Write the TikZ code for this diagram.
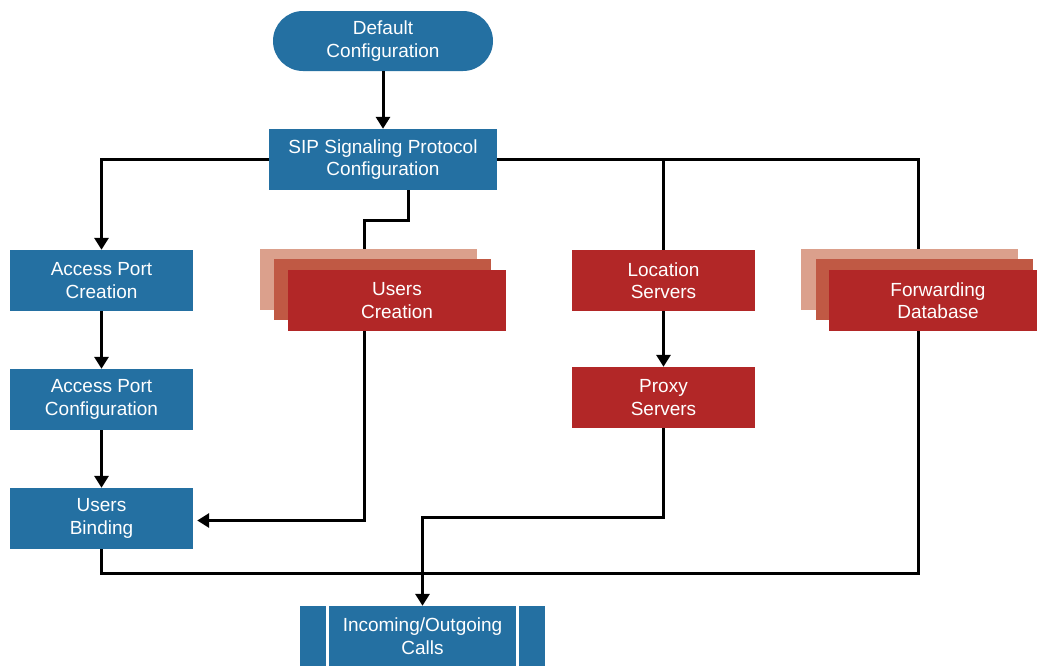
\documentclass[tikz,border=0pt]{standalone}
\usepackage{fontspec}
\setmainfont{Liberation Sans}
\usetikzlibrary{arrows.meta,calc}
\definecolor{stepblue}{HTML}{2470A2}
\definecolor{stepred}{HTML}{B22727}
\definecolor{layermid}{HTML}{C05944}
\definecolor{layerback}{HTML}{DBA08C}
\tikzset{
  box/.style={fill=#1, text=white, inner sep=0pt, align=center,
    minimum height=61pt, font=\fontsize{19}{22.5}\selectfont},
  bluebox/.style={box=stepblue, minimum width=183pt},
  redbox/.style={box=stepred, minimum width=183pt},
  layer/.style={fill=#1, inner sep=0pt, minimum width=217pt, minimum height=61pt},
  conn/.style={line width=3pt, draw=black},
  arr/.style={conn, -{Triangle[length=12pt,width=14pt]}},
}
\begin{document}
\begin{tikzpicture}[x=1pt, y=-1pt]
\clip (0,0) rectangle (1037,665);
\fill[white] (0,0) rectangle (1037,665);

% top of the flow
\node[box=stepblue, minimum width=220pt, minimum height=60pt, rounded corners=30pt] (def) at (383,41) {Default\\Configuration};
\node[box=stepblue, minimum width=228pt] (sip) at (383,159.5) {SIP Signaling Protocol\\Configuration};

% left column
\node[bluebox] (apc) at (101.5,280.5) {Access Port\\Creation};
\node[bluebox] (apcf) at (101.5,399.5) {Access Port\\Configuration};
\node[bluebox] (ub) at (101.5,518.5) {Users\\Binding};

% users creation (stacked)
\node[layer=layerback] (ucb) at (368.5,279.5) {};
\node[layer=layermid] (ucm) at (382.5,289.5) {};
\node[box=stepred, minimum width=218pt] (uc) at (397,300.5) {Users\\Creation};

% location and proxy servers
\node[redbox] (loc) at (663.5,280.5) {Location\\Servers};
\node[redbox] (proxy) at (663.5,397.5) {Proxy\\Servers};

% forwarding database (stacked)
\node[layer=layerback] (fwdb) at (909.5,279.5) {};
\node[layer=layermid] (fwdm) at (924,289.5) {};
\node[box=stepred, minimum width=218pt] (fwd) at (938,300.5) {Forwarding\\Database};

% incoming/outgoing calls (predefined process)
\node[box=stepblue, minimum width=245pt, minimum height=60pt] (io) at (422.5,636) {Incoming/Outgoing\\Calls};
\draw[white, line width=3pt] ([xshift=27.5pt]io.north west) -- ([xshift=27.5pt]io.south west);
\draw[white, line width=3pt] ([xshift=-27.5pt]io.north east) -- ([xshift=-27.5pt]io.south east);

% connector columns
\coordinate (ucx) at (364,0);
\coordinate (sipx) at (408,0);
\coordinate (fwdx) at (918,0);

% connectors
\draw[arr] (def.south) -- (sip.north);
\draw[arr] (sip.west) -| (apc.north);
\draw[conn] (sipx |- sip.south) -- ++(0,30) -| (ucx |- ucb.north);
\draw[conn] (sip.east) -| (fwdx |- fwdb.north);
\draw[conn] (sip.east -| loc.north) -- (loc.north);
\draw[arr] (apc.south) -- (apcf.north);
\draw[arr] (apcf.south) -- (ub.north);
\draw[arr] (loc.south) -- (proxy.north);
\draw[arr] (ucx |- uc.south) |- ([xshift=4pt,yshift=-2pt]ub.east);
\draw[arr] (proxy.south) -- ++(0,89) -| (io.north);
\draw[conn] (ub.south) -- ++(0,24) -| (fwdx |- fwd.south);
\end{tikzpicture}
\end{document}
